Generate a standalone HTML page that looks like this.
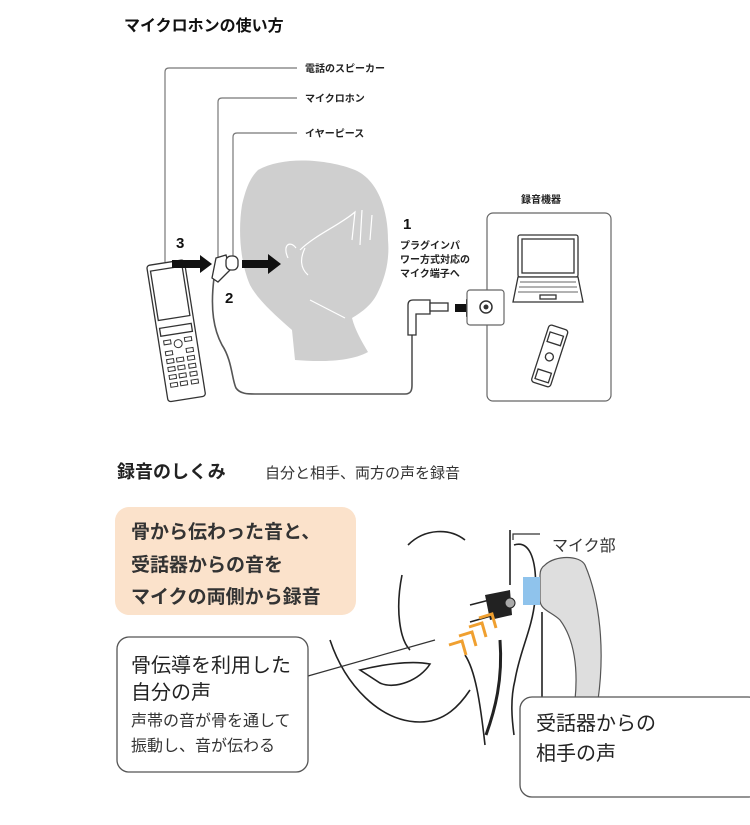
<!DOCTYPE html>
<html><head><meta charset="utf-8"><style>
html,body{margin:0;padding:0;background:#fff}
svg{display:block}
text{font-family:"Liberation Sans","Noto Sans CJK JP",sans-serif}
</style></head><body>
<svg width="750" height="825" viewBox="0 0 750 825" xmlns="http://www.w3.org/2000/svg">
<rect width="750" height="825" fill="#fff"/>
<text x="124" y="31" font-size="16" font-weight="bold" fill="#111">マイクロホンの使い方</text>

<path d="M258,170 C285,155 330,160 355,170 C378,180 388,210 388,240 C390,262 384,280 378,292 C372,305 362,312 352,318 C355,330 362,342 368,352 C350,362 320,362 295,360 L292,330 C275,315 258,300 250,285 C240,262 238,230 242,205 C246,188 250,178 258,170 Z" fill="#cfcfcf"/>
<path d="M300,250 C315,235 340,225 355,212 L352,240 M362,210 L360,245 M372,215 L370,240 M305,248 C300,258 300,268 308,275 M288,258 C282,245 290,240 296,248" stroke="#fff" stroke-width="1.2" fill="none"/>
<path d="M310,300 L345,318" stroke="#fff" stroke-width="1.2"/>

<g stroke="#777" stroke-width="1.2" fill="none">
<path d="M165,262 L165,72 Q165,68 169,68 L297,68"/>
<path d="M218,262 L218,102 Q218,98 222,98 L297,98"/>
<path d="M233,260 L233,137 Q233,133 237,133 L297,133"/>
</g>
<text x="305" y="72" font-size="10" font-weight="bold" fill="#222">電話のスピーカー</text>
<text x="305" y="102" font-size="10" font-weight="bold" fill="#222">マイクロホン</text>
<text x="305" y="137" font-size="10" font-weight="bold" fill="#222">イヤーピース</text>

<text x="176" y="248" font-size="15" font-weight="bold" fill="#111">3</text>
<text x="225" y="303" font-size="15" font-weight="bold" fill="#111">2</text>
<text x="403" y="229" font-size="15" font-weight="bold" fill="#111">1</text>
<text font-size="10" font-weight="bold" fill="#222"><tspan x="400" y="249">プラグインパ</tspan><tspan x="400" y="263">ワー方式対応の</tspan><tspan x="400" y="277">マイク端子へ</tspan></text>

<g transform="rotate(-9 175 330)" stroke="#333" stroke-width="1.3" fill="#fff">
<rect x="157" y="262" width="38" height="138" rx="3"/>
<rect x="160" y="268" width="32" height="50" fill="#fff"/>
<rect x="160" y="326" width="32" height="8"/>
<g stroke-width="1">
<circle cx="176" cy="344" r="4"/>
<rect x="162" y="339" width="7" height="4"/><rect x="183" y="339" width="7" height="4"/>
<rect x="162" y="350" width="7" height="4"/><rect x="183" y="350" width="7" height="4"/>
<rect x="162" y="358" width="7" height="4"/><rect x="172" y="358" width="7" height="4"/><rect x="183" y="358" width="7" height="4"/>
<rect x="162" y="366" width="7" height="4"/><rect x="172" y="366" width="7" height="4"/><rect x="183" y="366" width="7" height="4"/>
<rect x="162" y="374" width="7" height="4"/><rect x="172" y="374" width="7" height="4"/><rect x="183" y="374" width="7" height="4"/>
<rect x="162" y="382" width="7" height="4"/><rect x="172" y="382" width="7" height="4"/><rect x="183" y="382" width="7" height="4"/>
</g>
</g>

<g fill="#111">
<path d="M172,260 L200,260 L200,255 L212,264 L200,273 L200,268 L172,268 Z"/>
<path d="M242,260 L268,260 L268,254 L281,264 L268,274 L268,268 L242,268 Z"/>
<path d="M455,304 L466,304 L466,299 L476,308 L466,317 L466,312 L455,312 Z"/>
</g>

<path d="M214,278 C210,310 214,330 222,345 C232,360 232,380 236,388 C240,394 248,394 255,394 L405,394 C411,394 412,390 412,385 L412,335" stroke="#555" stroke-width="1.6" fill="none"/>
<path d="M216,258 L226,255 L230,270 L218,282 L212,278 Z" fill="#fff" stroke="#333" stroke-width="1.3"/>
<rect x="226" y="256" width="12" height="14" rx="5" fill="#fff" stroke="#333" stroke-width="1.3"/>

<g stroke="#333" stroke-width="1.3" fill="#fff">
<path d="M408,335 L408,305 Q408,300 413,300 L430,300 L430,314 L416,314 L416,335 Z"/>
<rect x="430" y="303" width="18" height="8"/>
</g>
<rect x="487" y="213" width="124" height="188" rx="6" fill="#fff" stroke="#666" stroke-width="1.2"/>
<rect x="467" y="290" width="37" height="35" rx="3" fill="#fff" stroke="#666" stroke-width="1.2"/>
<circle cx="486" cy="307" r="6" fill="#fff" stroke="#333" stroke-width="1.5"/>
<circle cx="486" cy="307" r="2.5" fill="#333"/>
<text x="521" y="203" font-size="10" font-weight="bold" fill="#222">録音機器</text>
<g stroke="#333" stroke-width="1.3" fill="#fff">
<rect x="518" y="235" width="60" height="42" rx="2"/>
<rect x="522" y="239" width="52" height="34"/>
<path d="M518,277 L513,302 L583,302 L578,277 Z"/>
<path d="M520,282 L576,282 M519,287 L577,287 M518,292 L578,292" stroke-width="0.8"/>
<rect x="540" y="295" width="16" height="4"/>
</g>
<g transform="rotate(18 550 355)" stroke="#333" stroke-width="1.3" fill="#fff">
<rect x="540" y="326" width="20" height="60" rx="3"/>
<rect x="543" y="333" width="14" height="10"/>
<circle cx="550" cy="357" r="4"/>
<rect x="543" y="372" width="14" height="10"/>
</g>

<text x="117" y="478" font-size="18" font-weight="bold" fill="#222">録音のしくみ</text>
<text x="265" y="478" font-size="15" fill="#333">自分と相手、両方の声を録音</text>

<rect x="115" y="507" width="241" height="108" rx="14" fill="#fbe2cb"/>
<text font-size="19" font-weight="bold" fill="#333"><tspan x="131" y="538">骨から伝わった音と、</tspan><tspan x="131" y="571">受話器からの音を</tspan><tspan x="131" y="603">マイクの両側から録音</tspan></text>

<g stroke="#222" stroke-width="1.6" fill="none">
<path d="M408,545 C425,528 450,528 465,540"/>
<path d="M402,575 C395,610 400,640 410,650"/>
<path d="M330,640 C345,685 380,722 420,722 C445,722 460,705 470,690"/>
<path d="M360,670 C380,665 410,660 430,664 C420,680 395,690 380,683 Z"/>
<path d="M510,530 L510,585"/>
<path d="M514,545 C530,540 538,560 535,600 C532,630 520,650 515,680 C510,700 512,720 514,735"/>
<path d="M465,655 C475,670 480,700 485,745"/>
<path d="M470,605 L505,596 M470,622 L505,612"/>
<path d="M500,640 C503,680 495,710 486,735" stroke-width="3"/>
<path d="M542,612 L542,698"/>
</g>
<line x1="308" y1="676" x2="435" y2="640" stroke="#333" stroke-width="1.2"/>
<path d="M485,595 L510,590 L512,615 L490,620 Z" fill="#222"/>
<circle cx="510" cy="603" r="5" fill="#aaa" stroke="#222"/>
<path d="M545,565 C555,555 580,555 585,565 C600,600 605,650 598,700 L575,700 C578,670 575,640 560,620 C552,612 540,610 540,600 L540,575 C540,570 542,567 545,565 Z" fill="#dedede" stroke="#555" stroke-width="1.2"/>
<rect x="523" y="577" width="17" height="28" fill="#8fc3ec"/>
<path d="M513,540 L513,534 L540,534" stroke="#333" stroke-width="1.2" fill="none"/>
<text x="552" y="551" font-size="16" fill="#333">マイク部</text>
<g stroke="#f0a030" stroke-width="3" fill="none" stroke-linejoin="miter">
<path d="M449,645 L462,641 L466,655"/>
<path d="M459,636 L472,632 L476,646"/>
<path d="M469,627 L482,623 L486,637"/>
<path d="M479,618 L492,614 L496,628"/>
</g>

<rect x="117" y="637" width="191" height="135" rx="12" fill="#fff" stroke="#555" stroke-width="1.3"/>
<text font-size="20" fill="#222"><tspan x="131" y="672">骨伝導を利用した</tspan><tspan x="131" y="699">自分の声</tspan></text>
<text font-size="16" fill="#333"><tspan x="131" y="726">声帯の音が骨を通して</tspan><tspan x="131" y="751">振動し、音が伝わる</tspan></text>

<rect x="520" y="697" width="240" height="100" rx="12" fill="#fff" stroke="#555" stroke-width="1.3"/>
<text font-size="20" fill="#222"><tspan x="536" y="730">受話器からの</tspan><tspan x="536" y="760">相手の声</tspan></text>
</svg>
</body></html>
